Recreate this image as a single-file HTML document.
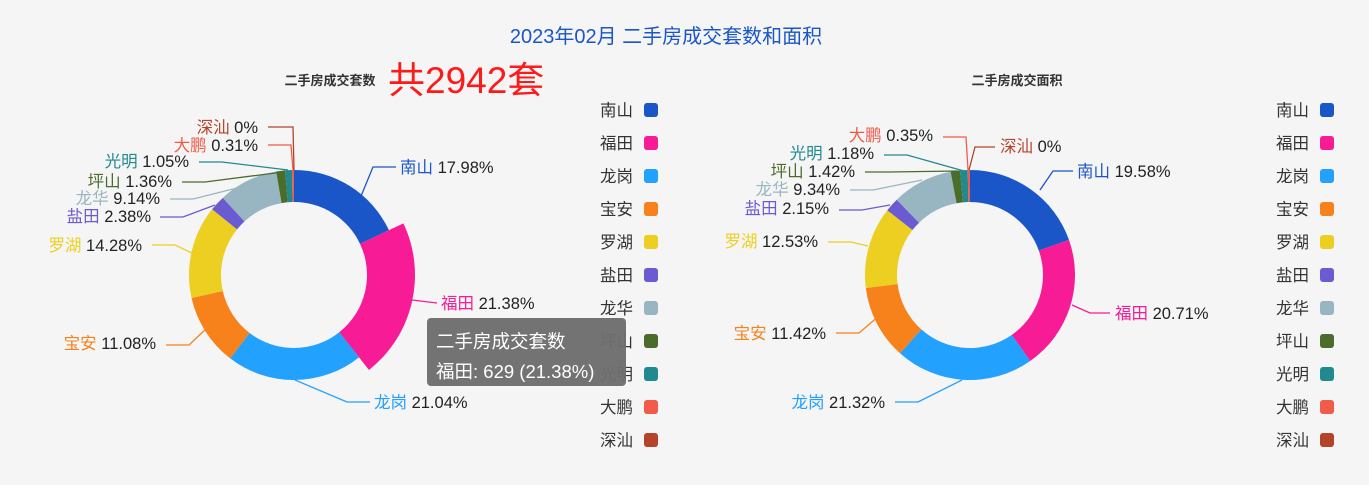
<!DOCTYPE html>
<html><head><meta charset="utf-8"><style>
html,body{margin:0;padding:0;background:#f5f5f5;}
svg{display:block;font-family:"Liberation Sans","Noto Sans CJK SC",sans-serif;}
</style></head><body>
<svg id="s" width="1369" height="485" xmlns="http://www.w3.org/2000/svg">
<rect width="1369" height="485" fill="#f5f5f5"/>
<text x="666" y="43" font-size="20" fill="#1a56c8" text-anchor="middle">2023年02月 二手房成交套数和面积</text>
<text x="330" y="85" font-size="13" font-weight="bold" fill="#333" text-anchor="middle">二手房成交套数</text>
<text x="388" y="93" font-size="37" fill="#ff1a1a">共2942套</text>
<text x="1017" y="85" font-size="13" font-weight="bold" fill="#333" text-anchor="middle">二手房成交面积</text>
<g id="g"></g>
</svg>
<script>
var C=["#1a56c8","#f71b96","#22a1ff","#f7821b","#edcf22","#6b5bd0","#98b6c2","#4c6c2c","#218a8e","#f15b4a","#b5432a"];
var N=["南山","福田","龙岗","宝安","罗湖","盐田","龙华","坪山","光明","大鹏","深汕"];
var A=[17.98,21.38,21.04,11.08,14.28,2.38,9.14,1.36,1.05,0.31,0];
var B=[19.58,20.71,21.32,11.42,12.53,2.15,9.34,1.42,1.18,0.35,0];
var g=document.getElementById('g'),h='';
function arc(cx,cy,r0,r1,a0,a1,c){
 function p(r,a){return [cx+r*Math.sin(a),cy-r*Math.cos(a)];}
 var l=(a1-a0)>Math.PI?1:0,P1=p(r1,a0),P2=p(r1,a1),P3=p(r0,a1),P4=p(r0,a0);
 return '<path d="M'+P1+'A'+r1+','+r1+' 0 '+l+' 1 '+P2+'L'+P3+'A'+r0+','+r0+' 0 '+l+' 0 '+P4+'Z" fill="'+c+'"/>';}
function donut(cx,d,em){var s=0;for(var i=0;i<d.length;i++){if(d[i]>0){var a0=s/100*2*Math.PI,a1=(s+d[i])/100*2*Math.PI;h+=arc(cx,275,73,(i==em?121:105),a0,a1,C[i]);}s+=d[i];}}
donut(294,A,1);donut(970,B,-1);
function lab(pts,i,x,y,txt,anchor){
 h+='<polyline points="'+pts+'" fill="none" stroke="'+C[i]+'" stroke-width="1.3"/>';
 h+='<text x="'+x+'" y="'+(y+6)+'" font-size="16.5" text-anchor="'+anchor+'"><tspan fill="'+C[i]+'">'+N[i]+'</tspan><tspan fill="#222"> '+txt+'</tspan></text>';}
lab("352,218 373,167 396,167",0,400,167,"17.98%","start");
lab("412,300 437,303",1,441,303,"21.38%","start");
lab("295,380 347,402 370,402",2,374,402,"21.04%","start");
lab("166,345 189,345 207,328",3,156,343,"11.08%","end");
lab("152,245 175,245 192,253",4,142,245,"14.28%","end");
lab("160,217 183,217 215,205",5,151,216,"2.38%","end");
lab("170,199 193,199 245,186",6,160,198,"9.14%","end");
lab("182,182 205,182 283,172",7,172,181,"1.36%","end");
lab("199,162 222,162 288,170",8,189,161,"1.05%","end");
lab("268,145 291,145 293,170",9,258,145,"0.31%","end");
lab("268,127 293,127 294,170",10,258,127,"0%","end");
lab("1040,190 1053,171 1073,171",0,1077,171,"19.58%","start");
lab("1072,305 1090,313 1110,313",1,1115,313,"20.71%","start");
lab("895,402 918,402 962,380",2,885,402,"21.32%","end");
lab("836,333 859,333 880,315",3,826,333,"11.42%","end");
lab("828,242 851,242 868,246",4,818,241,"12.53%","end");
lab("839,210 862,210 890,205",5,829,208,"2.15%","end");
lab("850,190 873,190 922,180",6,840,189,"9.34%","end");
lab("865,172 888,172 958,171",7,855,171,"1.42%","end");
lab("884,155 907,155 964,171",8,874,153,"1.18%","end");
lab("943,137 966,137 968,170",9,933,135,"0.35%","end");
lab("969,170 975,147 995,147",10,1000,146,"0%","start");
for(var i=0;i<11;i++){var y=110+i*33;
 [[600,644],[1276,1320]].forEach(function(q){
 h+='<text x="'+q[0]+'" y="'+(y+6)+'" font-size="16.5" fill="#333">'+N[i]+'</text>';
 h+='<rect x="'+q[1]+'" y="'+(y-7)+'" width="14" height="14" rx="3" fill="'+C[i]+'"/>';});}
h+='<rect x="427" y="318" width="199" height="68" rx="4" fill="#6e6e6e" fill-opacity="0.97"/>';
h+='<text x="436" y="348" font-size="18.5" fill="#fff">二手房成交套数</text>';
h+='<text x="436" y="378" font-size="18.5" fill="#fff">福田: 629 (21.38%)</text>';
g.innerHTML=h;
</script>
</body></html>
